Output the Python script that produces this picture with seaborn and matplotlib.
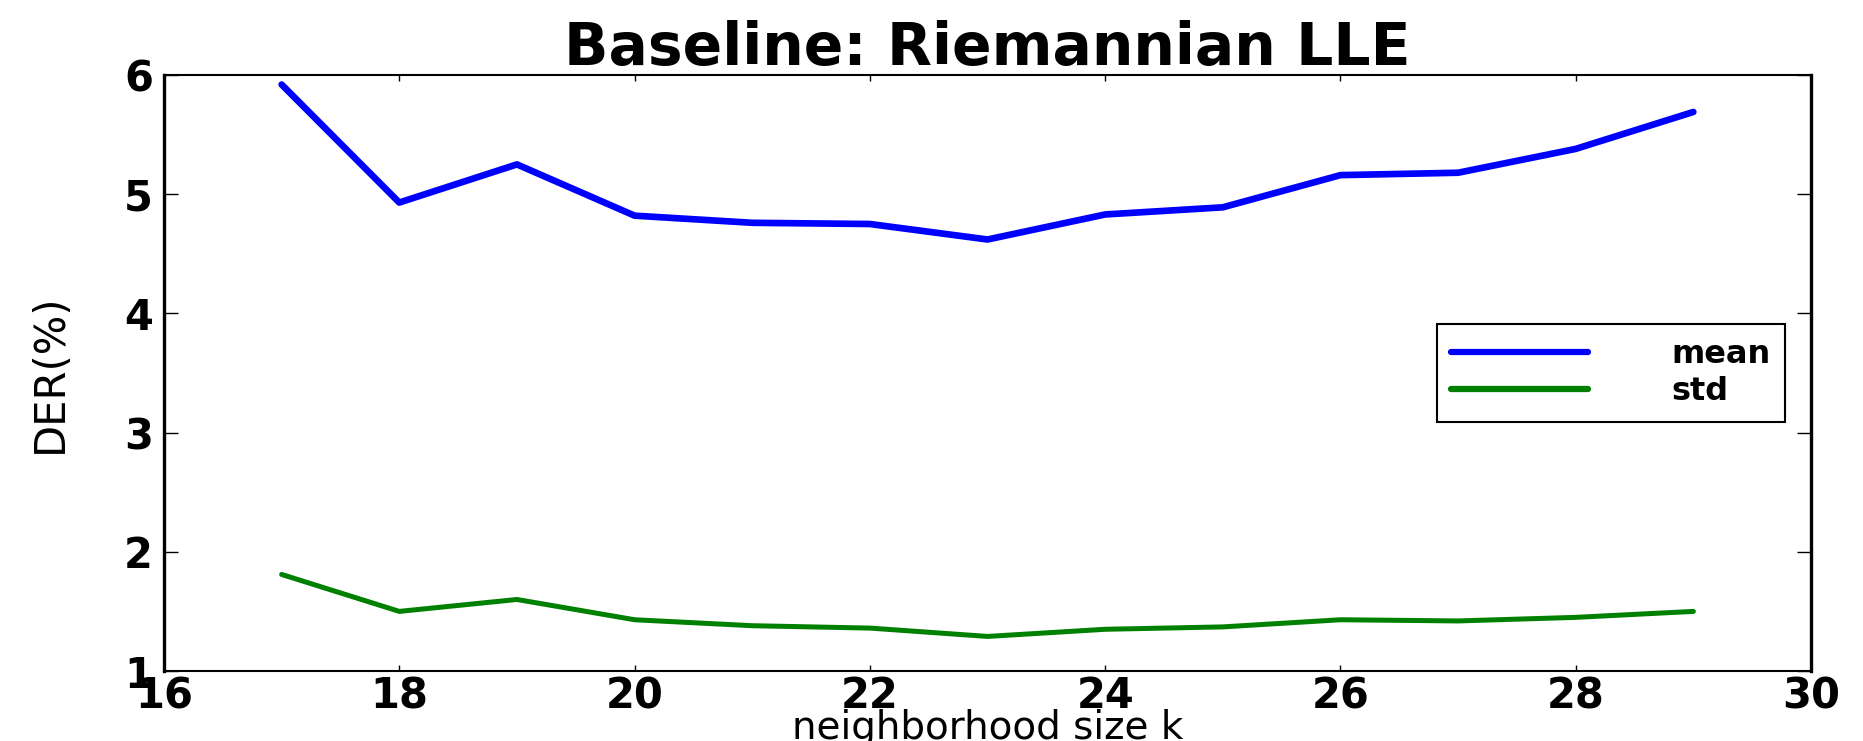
import matplotlib
matplotlib.use("Agg")
import matplotlib.pyplot as plt
import seaborn as sns
import pandas as pd

# ---- data ----
k_values = [17, 18, 19, 20, 21, 22, 23, 24, 25, 26, 27, 28, 29]
mean_der = [5.92, 4.93, 5.25, 4.82, 4.76, 4.75, 4.62, 4.83, 4.89, 5.16, 5.18, 5.38, 5.69]
std_der = [1.81, 1.50, 1.60, 1.43, 1.38, 1.36, 1.29, 1.35, 1.37, 1.43, 1.42, 1.45, 1.50]
series_names = ["mean", "std"]
series_colors = ["#0000ff", "#008000"]
x_ticks = [16, 18, 20, 22, 24, 26, 28, 30]
y_ticks = [1, 2, 3, 4, 5, 6]
title_text = "Baseline: Riemannian LLE"
xlabel_text = "neighborhood size k"
ylabel_text = "DER(%)"

sns.set_theme(style="white")
plt.rcParams["font.family"] = ["DejaVu Sans"]
plt.rcParams["text.color"] = "black"
plt.rcParams["axes.labelcolor"] = "black"
plt.rcParams["xtick.color"] = "black"
plt.rcParams["ytick.color"] = "black"

W, H = 1863, 741
fig = plt.figure(figsize=(W / 100, H / 100), dpi=100)
ax_left, ax_right, ax_top, ax_bottom = 164, 1811, 75, 671
ax = fig.add_axes([ax_left / W, 1 - ax_bottom / H, (ax_right - ax_left) / W, (ax_bottom - ax_top) / H])
ax.set_facecolor("white")

df_mean = pd.DataFrame({"k": k_values, "DER": mean_der})
df_std = pd.DataFrame({"k": k_values, "DER": std_der})
sns.lineplot(data=df_mean, x="k", y="DER", ax=ax, color=series_colors[0], linewidth=4.8,
             label=series_names[0])
sns.lineplot(data=df_std, x="k", y="DER", ax=ax, color=series_colors[1], linewidth=3.6,
             label=series_names[1])

ax.set_xlim(16, 30)
ax.set_ylim(1, 6)
ax.set_xticks(x_ticks)
ax.set_yticks(y_ticks)
ax.set_xticklabels([str(t) for t in x_ticks], fontsize=30, fontweight="bold", color="black")
ax.set_yticklabels([str(t) for t in y_ticks], fontsize=30, fontweight="bold", color="black")

ax.tick_params(axis="both", which="major", direction="in", top=True, right=True,
               bottom=True, left=True, color="black", width=1.0)
ax.tick_params(axis="x", length=4.5, pad=3)
ax.tick_params(axis="y", length=10, pad=8)

for side in ["left", "right"]:
    ax.spines[side].set_linewidth(2.4)
    ax.spines[side].set_color("black")
for side in ["top", "bottom"]:
    ax.spines[side].set_linewidth(1.5)
    ax.spines[side].set_color("black")

ax.set_title(title_text, fontsize=42, fontweight="bold", pad=7, color="black")

ax.set_xlabel(xlabel_text, fontsize=28, color="black")
ax.xaxis.set_label_coords(0.5, (ax_bottom - 709) / (ax_bottom - ax_top))
ax.xaxis.label.set_va("top")
ax.set_ylabel(ylabel_text, fontsize=30, color="black")
ax.yaxis.set_label_coords((71 - ax_left) / (ax_right - ax_left), 0.5)

leg = ax.legend(loc="center right", bbox_to_anchor=((1785 - ax_left) / (ax_right - ax_left), 0.5),
                borderaxespad=0, frameon=True, fancybox=False, handlelength=4.3,
                handletextpad=2.6, borderpad=0.45, labelspacing=0.2,
                prop={"size": 23, "weight": "bold"})
frame = leg.get_frame()
frame.set_edgecolor("black")
frame.set_linewidth(1.5)
frame.set_alpha(1)
for line in leg.get_lines():
    line.set_linewidth(4.5)

fig.savefig("out.png", dpi=100, facecolor="white")
